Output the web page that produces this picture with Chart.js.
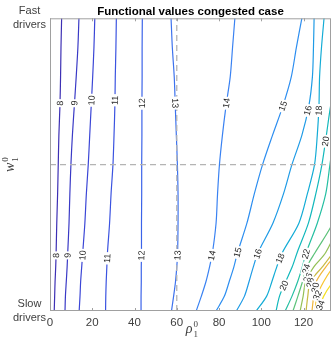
<!DOCTYPE html>
<html>
<head>
<meta charset="utf-8">
<script src="https://cdn.jsdelivr.net/npm/chart.js@4.4.1/dist/chart.umd.min.js"></script>
<style>
  html, body { margin: 0; padding: 0; background: #fff; }
</style>
</head>
<body>
<canvas id="myChart" width="332" height="340"></canvas>
<script>
// rows of the contour table (w_1^0 from slow = 0 to fast = 1)
const yGrid = [0, 0.05, 0.1, 0.15, 0.2, 0.3, 0.4, 0.5, 0.6, 0.7, 0.8, 0.9, 1];
const levels = [8, 9, 10, 11, 12, 13, 14, 15, 16, 18, 20, 22, 24, 26, 28, 30, 32, 34];
// rho_1^0 of each contour level at every yGrid row (null = off the plot)
const contourX = [
  [2.0, 2.2, 2.4, 2.7, 2.9, 3.2, 3.6, 3.9, 4.2, 4.7, 5.0, 5.2, 5.5],
  [7.1, 7.3, 7.7, 8.1, 8.4, 9.0, 9.4, 9.9, 10.6, 11.5, 12.4, 13.2, 13.7],
  [13.8, 14.2, 14.5, 15.0, 15.5, 16.5, 17.2, 18.1, 18.8, 19.5, 20.2, 20.8, 21.2],
  [26.3, 26.4, 26.6, 26.9, 27.2, 28.2, 28.9, 29.8, 30.3, 30.7, 30.9, 31.2, 31.4],
  [43.1, 43.1, 43.2, 43.2, 43.3, 43.3, 43.4, 43.4, 43.5, 43.5, 43.6, 43.6, 43.7],
  [57.5, 58.5, 59.4, 60.0, 60.4, 60.6, 60.6, 60.3, 59.8, 59.3, 58.8, 57.9, 57.3],
  [69.2, 71.6, 73.8, 75.5, 76.9, 78.6, 79.3, 80.2, 81.6, 83.3, 85.3, 86.4, 87.5],
  [78.6, 82.5, 84.8, 87.0, 88.8, 93.2, 96.7, 100.6, 105.3, 110.2, 114.2, 116.6, 119.2],
  [88.2, 92.0, 94.2, 96.2, 98.5, 105.5, 110.5, 114.5, 119.2, 122.5, 124.2, 124.7, 125.0],
  [97.6, 102.5, 105.0, 107.3, 110.0, 117.8, 121.8, 125.2, 126.5, 127.3, 127.6, 128.5, 129.7],
  [107.0, 108.6, 111.5, 114.6, 117.0, 122.3, 125.8, 128.7, 130.8, 132.8, 135.5, 138.0, 140.0],
  [111.3, 114.5, 117.2, 119.4, 121.3, 126.5, 130.5, 132.5, 134.5, 137.0, 140.0, null, null],
  [115.0, 117.3, 119.5, 121.5, 125.5, 133.8, 138.0, null, null, null, null, null, null],
  [118.4, 119.8, 121.0, 124.8, 130.5, 137.0, 142.0, null, null, null, null, null, null],
  [121.2, 122.0, 123.2, 128.8, 134.0, 142.0, null, null, null, null, null, null, null],
  [124.0, 124.8, 126.0, 130.5, 136.0, 146.0, null, null, null, null, null, null, null],
  [125.5, 126.3, 129.5, 134.0, 140.0, null, null, null, null, null, null, null, null],
  [127.0, 129.5, 134.0, 140.0, null, null, null, null, null, null, null, null, null],
];
// where the level numbers sit on each contour (w_1^0 value)
const labelY = [
  [0.19, 0.71], [0.19, 0.71], [0.19, 0.72], [0.18, 0.72], [0.19, 0.71], [0.19, 0.71],
  [0.19, 0.71], [0.2, 0.7], [0.195, 0.685], [0.18, 0.685], [0.087, 0.58], [0.195],
  [0.144], [0.114], [0.097], [0.08], [0.054], [0.02],
];
const levelColors = [
  '#3d30b4', '#3a3ac6', '#3b46d6', '#3b53e0', '#3b63e9', '#3d72ee', '#3a82f2', '#2d8ef0',
  '#1f9be6', '#14acd6', '#12b8bc', '#25bfa2', '#5cc27a', '#94c056', '#c8ba44', '#f0b63c',
  '#f8c630', '#f4e024',
];
const xTicks = [0, 20, 40, 60, 80, 100, 120];
const yTicks = [0, 1];
const yTickText = [['Slow', 'drivers'], ['Fast', 'drivers']];
const refX = 60;
const refY = 0.5;

const FONT = '"Liberation Sans", Arial, Helvetica, sans-serif';

function contourPoints(i) {
  return yGrid.map((y, k) => contourX[i][k] == null ? null : { x: contourX[i][k], y: y })
    .filter(p => p);
}

const datasets = [
  {
    data: [{ x: refX, y: 0 }, { x: refX, y: 1 }],
    borderColor: '#b4b4b4', borderWidth: 1.3, borderDash: [6, 4], pointRadius: 0, showLine: true,
  },
  {
    data: [{ x: 0, y: refY }, { x: 133, y: refY }],
    borderColor: '#b4b4b4', borderWidth: 1.3, borderDash: [6, 4], pointRadius: 0, showLine: true,
  },
];
levels.forEach((lv, i) => {
  datasets.push({
    label: String(lv),
    data: contourPoints(i),
    borderColor: levelColors[i],
    borderWidth: 1.2,
    pointRadius: 0,
    showLine: true,
    tension: 0.3,
  });
});

// contour labels, the axes box, inner tick marks and the math axis labels
const decor = {
  id: 'decor',
  afterDatasetsDraw(chart) {
    const { ctx, chartArea: a, scales: { x, y } } = chart;
    ctx.save();
    ctx.font = '9px ' + FONT;
    ctx.textAlign = 'center';
    ctx.textBaseline = 'middle';
    levels.forEach((lv, i) => {
      const pts = contourPoints(i);
      labelY[i].forEach(ly => {
        let k = 1;
        while (k < pts.length - 1 && pts[k].y < ly) k++;
        const p0 = pts[k - 1], p1 = pts[k];
        const t = (ly - p0.y) / (p1.y - p0.y);
        const lx = p0.x + t * (p1.x - p0.x);
        const px = x.getPixelForValue(lx), py = y.getPixelForValue(ly);
        let ang = Math.atan2(y.getPixelForValue(p1.y) - y.getPixelForValue(p0.y),
          x.getPixelForValue(p1.x) - x.getPixelForValue(p0.x));
        if (ang < -Math.PI / 2) ang += Math.PI;
        if (ang > Math.PI / 2) ang -= Math.PI;
        const txt = String(lv);
        const w = ctx.measureText(txt).width + 3;
        ctx.save();
        ctx.translate(px, py);
        ctx.rotate(ang);
        ctx.fillStyle = '#fff';
        ctx.fillRect(-w / 2, -4.5, w, 9);
        ctx.fillStyle = '#262626';
        ctx.fillText(txt, 0, 0.5);
        ctx.restore();
      });
    });

    ctx.strokeStyle = '#a0a0a0';
    ctx.lineWidth = 1;
    ctx.strokeRect(a.left + 0.5, a.top + 0.5, a.right - a.left - 1, a.bottom - a.top - 1);
    ctx.beginPath();
    xTicks.forEach(v => {
      const px = Math.round(x.getPixelForValue(v)) + 0.5;
      ctx.moveTo(px, a.bottom); ctx.lineTo(px, a.bottom - 3);
      ctx.moveTo(px, a.top); ctx.lineTo(px, a.top + 3);
    });
    ctx.stroke();

    ctx.fillStyle = '#404040';
    ctx.textBaseline = 'alphabetic';
    // rho_1^0 under the x axis
    const cx = (a.left + a.right) / 2;
    ctx.font = 'italic 14px "Liberation Serif", "Times New Roman", serif';
    ctx.textAlign = 'right';
    ctx.fillText('\u03C1', cx + 2, 333);
    ctx.font = '9px "Liberation Serif", "Times New Roman", serif';
    ctx.textAlign = 'left';
    ctx.fillText('0', cx + 3, 327);
    ctx.fillText('1', cx + 3, 337);
    // w_1^0 beside the y axis
    ctx.save();
    ctx.translate(14, (a.top + a.bottom) / 2);
    ctx.rotate(-Math.PI / 2);
    ctx.font = 'italic 14px "Liberation Serif", "Times New Roman", serif';
    ctx.textAlign = 'right';
    ctx.fillText('w', 2, 0);
    ctx.font = '9px "Liberation Serif", "Times New Roman", serif';
    ctx.textAlign = 'left';
    ctx.fillText('0', 3, -6);
    ctx.fillText('1', 3, 4);
    ctx.restore();
    ctx.restore();
  },
};

const ctx = document.getElementById('myChart');
const chart = new Chart(ctx, {
  type: 'scatter',
  data: { datasets: datasets },
  options: {
    responsive: false,
    animation: false,
    layout: { padding: { left: 0, right: 1, top: 0, bottom: 0 } },
    plugins: {
      legend: { display: false },
      tooltip: { enabled: false },
      title: {
        display: true,
        text: 'Functional values congested case',
        fullSize: false,
        color: '#000',
        font: { family: FONT, size: 11.5, weight: 'bold', lineHeight: 1.13 },
        padding: { top: 0, bottom: 0 },
      },
    },
    scales: {
      x: {
        type: 'linear',
        min: 0,
        max: 133,
        afterBuildTicks: s => { s.ticks = xTicks.map(v => ({ value: v })); },
        afterFit: s => { s.height = 29; },
        grid: { display: false, drawTicks: false },
        border: { display: false },
        ticks: { font: { family: FONT, size: 11.5 }, color: '#404040', padding: 5, maxRotation: 0 },
      },
      y: {
        type: 'linear',
        min: 0,
        max: 1,
        afterBuildTicks: s => { s.ticks = yTicks.map(v => ({ value: v })); },
        afterFit: s => { s.width = 50; },
        grid: { display: false, drawTicks: false },
        border: { display: false },
        ticks: {
          font: { family: FONT, size: 11, lineHeight: 1.3 },
          color: '#404040',
          padding: 4,
          crossAlign: 'center',
          callback: (v, i) => yTickText[i],
        },
      },
    },
  },
  plugins: [decor],
});
</script>
</body>
</html>
